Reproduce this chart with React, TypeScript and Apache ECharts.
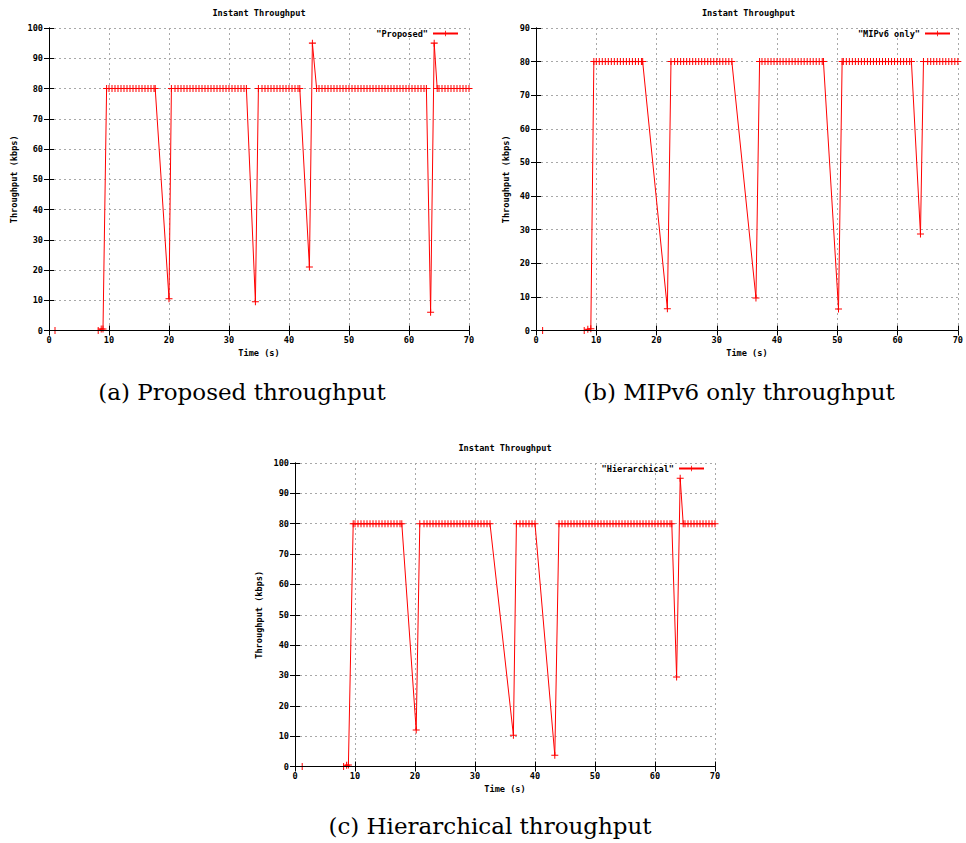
import React, { useEffect, useRef } from 'react';
import * as echarts from 'echarts';

const TITLE = 'Instant Throughput';
const X_NAME = 'Time (s)';
const Y_NAME = 'Throughput (kbps)';
const X_MIN = 0;
const X_MAX = 70;
const X_STEP = 10;
const Y_STEP = 10;

// [time (s), throughput (kbps)]
const proposed: [number, number][] = [
  [1.0, 0], [8.2, 0], [8.7, 0.5], [9.0, 0.5], [9.6, 80],
  [10, 80], [10.5, 80], [11, 80], [11.5, 80], [12, 80], [12.5, 80], [13, 80], [13.5, 80],
  [14, 80], [14.5, 80], [15, 80], [15.5, 80], [16, 80], [16.5, 80], [17, 80], [17.5, 80], [17.7, 80],
  [20.0, 10.5], [20.4, 80],
  [21, 80], [21.5, 80], [22, 80], [22.5, 80], [23, 80], [23.5, 80], [24, 80], [24.5, 80],
  [25, 80], [25.5, 80], [26, 80], [26.5, 80], [27, 80], [27.5, 80], [28, 80], [28.5, 80],
  [29, 80], [29.5, 80], [30, 80], [30.5, 80], [31, 80], [31.5, 80], [32, 80], [32.5, 80], [32.9, 80],
  [34.4, 9.5], [34.9, 80],
  [35.5, 80], [36, 80], [36.5, 80], [37, 80], [37.5, 80], [38, 80], [38.5, 80], [39, 80],
  [39.5, 80], [40, 80], [40.5, 80], [41, 80], [41.5, 80], [41.8, 80],
  [43.4, 21], [43.9, 95], [44.6, 80],
  [45, 80], [45.5, 80], [46, 80], [46.5, 80], [47, 80], [47.5, 80], [48, 80], [48.5, 80],
  [49, 80], [49.5, 80], [50, 80], [50.5, 80], [51, 80], [51.5, 80], [52, 80], [52.5, 80],
  [53, 80], [53.5, 80], [54, 80], [54.5, 80], [55, 80], [55.5, 80], [56, 80], [56.5, 80],
  [57, 80], [57.5, 80], [58, 80], [58.5, 80], [59, 80], [59.5, 80], [60, 80], [60.5, 80],
  [61, 80], [61.5, 80], [62, 80], [62.5, 80], [62.9, 80],
  [63.6, 6], [64.2, 95], [64.7, 80],
  [65, 80], [65.5, 80], [66, 80], [66.5, 80], [67, 80], [67.5, 80], [68, 80], [68.5, 80],
  [69, 80], [69.5, 80], [70, 80],
];

const mipv6Only: [number, number][] = [
  [1.1, 0], [8.0, 0], [8.6, 0.4], [9.1, 0.5], [9.6, 80],
  [10, 80], [10.5, 80], [11, 80], [11.5, 80], [12, 80], [12.5, 80], [13, 80], [13.5, 80],
  [14, 80], [14.5, 80], [15, 80], [15.5, 80], [16, 80], [16.5, 80], [17, 80], [17.5, 80], [17.7, 80],
  [21.8, 6.5], [22.4, 80],
  [23, 80], [23.5, 80], [24, 80], [24.5, 80], [25, 80], [25.5, 80], [26, 80], [26.5, 80],
  [27, 80], [27.5, 80], [28, 80], [28.5, 80], [29, 80], [29.5, 80], [30, 80], [30.5, 80],
  [31, 80], [31.5, 80], [32, 80], [32.5, 80],
  [36.5, 9.7], [37.1, 80],
  [37.5, 80], [38, 80], [38.5, 80], [39, 80], [39.5, 80], [40, 80], [40.5, 80], [41, 80],
  [41.5, 80], [42, 80], [42.5, 80], [43, 80], [43.5, 80], [44, 80], [44.5, 80], [45, 80],
  [45.5, 80], [46, 80], [46.5, 80], [47, 80], [47.5, 80], [47.7, 80],
  [50.2, 6.4], [50.8, 80],
  [51, 80], [51.5, 80], [52, 80], [52.5, 80], [53, 80], [53.5, 80], [54, 80], [54.5, 80],
  [55, 80], [55.5, 80], [56, 80], [56.5, 80], [57, 80], [57.5, 80], [58, 80], [58.5, 80],
  [59, 80], [59.5, 80], [60, 80], [60.5, 80], [61, 80], [61.5, 80], [62, 80], [62.3, 80],
  [63.8, 28.7], [64.3, 80],
  [65, 80], [65.5, 80], [66, 80], [66.5, 80], [67, 80], [67.5, 80], [68, 80], [68.5, 80],
  [69, 80], [69.5, 80], [70, 80],
];

const hierarchical: [number, number][] = [
  [1.2, 0], [8.1, 0], [8.6, 0.4], [8.9, 0.5], [9.7, 80],
  [10, 80], [10.5, 80], [11, 80], [11.5, 80], [12, 80], [12.5, 80], [13, 80], [13.5, 80],
  [14, 80], [14.5, 80], [15, 80], [15.5, 80], [16, 80], [16.5, 80], [17, 80], [17.5, 80], [17.8, 80],
  [20.2, 12], [20.8, 80],
  [21.5, 80], [22, 80], [22.5, 80], [23, 80], [23.5, 80], [24, 80], [24.5, 80], [25, 80],
  [25.5, 80], [26, 80], [26.5, 80], [27, 80], [27.5, 80], [28, 80], [28.5, 80], [29, 80],
  [29.5, 80], [30, 80], [30.5, 80], [31, 80], [31.5, 80], [32, 80], [32.5, 80],
  [36.4, 10.3], [36.9, 80],
  [37.5, 80], [38, 80], [38.5, 80], [39, 80], [39.5, 80], [40, 80],
  [43.3, 3.7], [44.0, 80],
  [44.5, 80], [45, 80], [45.5, 80], [46, 80], [46.5, 80], [47, 80], [47.5, 80], [48, 80],
  [48.5, 80], [49, 80], [49.5, 80], [50, 80], [50.5, 80], [51, 80], [51.5, 80], [52, 80],
  [52.5, 80], [53, 80], [53.5, 80], [54, 80], [54.5, 80], [55, 80], [55.5, 80], [56, 80],
  [56.5, 80], [57, 80], [57.5, 80], [58, 80], [58.5, 80], [59, 80], [59.5, 80], [60, 80],
  [60.5, 80], [61, 80], [61.5, 80], [62, 80], [62.5, 80], [62.8, 80],
  [63.6, 29.5], [64.2, 95], [64.7, 80],
  [65, 80], [65.5, 80], [66, 80], [66.5, 80], [67, 80], [67.5, 80], [68, 80], [68.5, 80],
  [69, 80], [69.5, 80], [70, 80],
];

const seriesNames = ['"Proposed"', '"MIPv6 only"', '"Hierarchical"'];
const seriesData = [proposed, mipv6Only, hierarchical];
const yMaxes = [100, 90, 100];
const captions = ['(a) Proposed throughput', '(b) MIPv6 only throughput', '(c) Hierarchical throughput'];

// layout (pixels); half-pixel heights so the zero line sits exactly under the border
const grids = [
  { left: 49, top: 28, width: 420, height: 302.5, yNameGap: 31, legendRight: 507, captionX: 242, captionY: 392 },
  { left: 536, top: 28, width: 425, height: 302.5, yNameGap: 26, legendRight: 15, captionX: 739, captionY: 392 },
  { left: 295, top: 463, width: 420, height: 303.5, yNameGap: 32, legendRight: 261, captionX: 490, captionY: 826 },
];

const MONO = '"DejaVu Sans Mono", monospace';
const FS = 8.6;
const RED = '#ff0000';
const PLUS = 'path://M3,0H4V3H7V4H4V7H3V4H0V3H3Z';

export default function App() {
  const ref = useRef<HTMLDivElement>(null);
  useEffect(() => {
    if (!ref.current) return;
    const chart = echarts.init(ref.current, undefined, { renderer: 'svg' });
    const labelStyle = { fontFamily: MONO, fontWeight: 'bold' as const, fontSize: FS, color: '#000' };
    const splitLine = { show: true, lineStyle: { color: '#a8a8a8', type: [2, 3] as number[], width: 1 } };
    const axisLine = { show: true, lineStyle: { color: '#000', width: 1 } };
    const axisTick = { show: true, inside: true, length: 5, lineStyle: { color: '#000' } };
    const xAxis: any[] = [];
    const yAxis: any[] = [];
    const series: any[] = [];
    const legend: any[] = [];
    const graphic: any[] = [];
    grids.forEach((g, i) => {
      xAxis.push({
        type: 'value', gridIndex: i, min: X_MIN, max: X_MAX, interval: X_STEP, position: 'bottom', z: 5,
        axisLine, axisTick,
        axisLabel: { ...labelStyle, margin: 5 },
        splitLine: { show: false },
        name: X_NAME, nameLocation: 'middle', nameGap: 18,
        nameTextStyle: labelStyle,
      });
      xAxis.push({
        type: 'value', gridIndex: i, min: X_MIN, max: X_MAX, interval: X_STEP, position: 'top', z: 0,
        axisLine, axisTick,
        axisLabel: { show: false }, splitLine,
      });
      yAxis.push({
        type: 'value', gridIndex: i, min: 0, max: yMaxes[i], interval: Y_STEP, position: 'left', z: 5,
        axisLine, axisTick,
        axisLabel: { ...labelStyle, margin: 6 },
        splitLine: { show: false },
        name: Y_NAME, nameLocation: 'middle', nameGap: g.yNameGap, nameRotate: 90,
        nameTextStyle: labelStyle,
      });
      yAxis.push({
        type: 'value', gridIndex: i, min: 0, max: yMaxes[i], interval: Y_STEP, position: 'right', z: 0,
        axisLine, axisTick,
        axisLabel: { show: false }, splitLine,
      });
      series.push({
        type: 'line', name: seriesNames[i], xAxisIndex: i * 2, yAxisIndex: i * 2,
        data: seriesData[i], symbol: PLUS, symbolSize: 7, showSymbol: true, showAllSymbol: true,
        lineStyle: { color: RED, width: 1 }, itemStyle: { color: RED }, z: 2,
      });
      legend.push({
        data: [seriesNames[i]], right: g.legendRight, top: g.top + 1, padding: 0,
        align: 'right', itemWidth: 25, itemHeight: 7, itemGap: 5, selectedMode: false,
        textStyle: { ...labelStyle },
      });
      graphic.push({
        type: 'text', x: g.left + g.width / 2, y: g.top - 15,
        style: { text: TITLE, font: `bold ${FS}px ${MONO}`, fill: '#000', align: 'center', verticalAlign: 'middle' },
      });
      graphic.push({
        type: 'text', x: g.captionX, y: g.captionY,
        style: { text: captions[i], font: `23px "DejaVu Serif", serif`, fill: '#000', align: 'center', verticalAlign: 'middle' },
      });
    });
    chart.setOption({
      animation: false,
      backgroundColor: '#fff',
      grid: grids.map((g) => ({ left: g.left, top: g.top, width: g.width, height: g.height, show: false })),
      xAxis, yAxis, series, legend, graphic,
    });
    return () => chart.dispose();
  }, []);
  return <div ref={ref} style={{ position: 'absolute', left: 0, top: 0, width: 966, height: 843, background: '#fff' }} />;
}
